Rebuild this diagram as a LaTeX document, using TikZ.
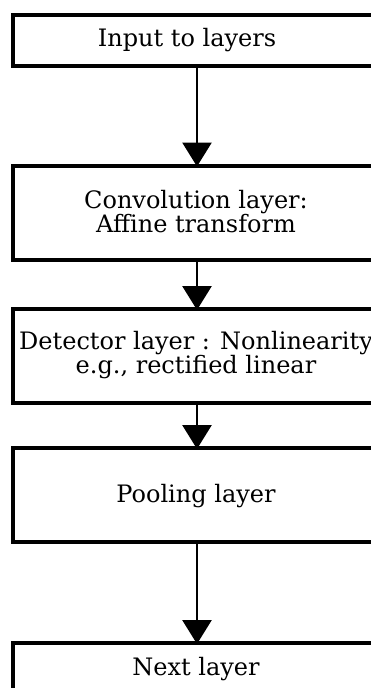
\documentclass[tikz,border=0pt]{standalone}
\usepackage{fontspec}
\setmainfont{DejaVu Serif}
\usetikzlibrary{arrows.meta}
\tikzset{
  layerbox/.style={draw=black, line width=4pt, minimum width=368pt, inner sep=0pt, outer sep=0pt},
  layertext/.style={font=\fontsize{24pt}{24pt}\selectfont, align=center, inner sep=0pt, anchor=base},
  flow/.style={line width=2.8pt, -{Triangle[length=24pt, width=29pt]}, shorten >=-1pt}
}
\begin{document}
\begin{tikzpicture}[x=1pt, y=-1pt]
  \useasboundingbox (0,0) rectangle (371,688);
  % boxes, one per stage
  \node[layerbox, minimum height=51pt] (b1) at (197,40) {};
  \node[layerbox, minimum height=94pt] (b2) at (197,212.5) {};
  \node[layerbox, minimum height=94pt] (b3) at (197,356) {};
  \node[layerbox, minimum height=94pt] (b4) at (197,495) {};
  \node[layerbox, minimum height=94pt] (b5) at (197,690) {};
  % captions (base anchor sits on the last line)
  \node[layertext] (t1) at (187,46) {Input to layers};
  \node[layertext] (t2) at (196,232) {Convolution layer:\\Affine transform};
  \node[layertext] (t3) at (196,373) {Detector layer : Nonlinearity\\e.g., rectified linear};
  \node[layertext] (t4) at (196,502) {Pooling layer};
  \node[layertext] (t5) at (196,675) {Next layer};
  % connectors
  \draw[flow] (b1.south -| 197,0) -- (b2.north -| 197,0);
  \draw[flow] (b2.south -| 197,0) -- (b3.north -| 197,0);
  \draw[flow] (b3.south -| 197,0) -- (b4.north -| 197,0);
  \draw[flow] (b4.south -| 197,0) -- (b5.north -| 197,0);
\end{tikzpicture}
\end{document}
